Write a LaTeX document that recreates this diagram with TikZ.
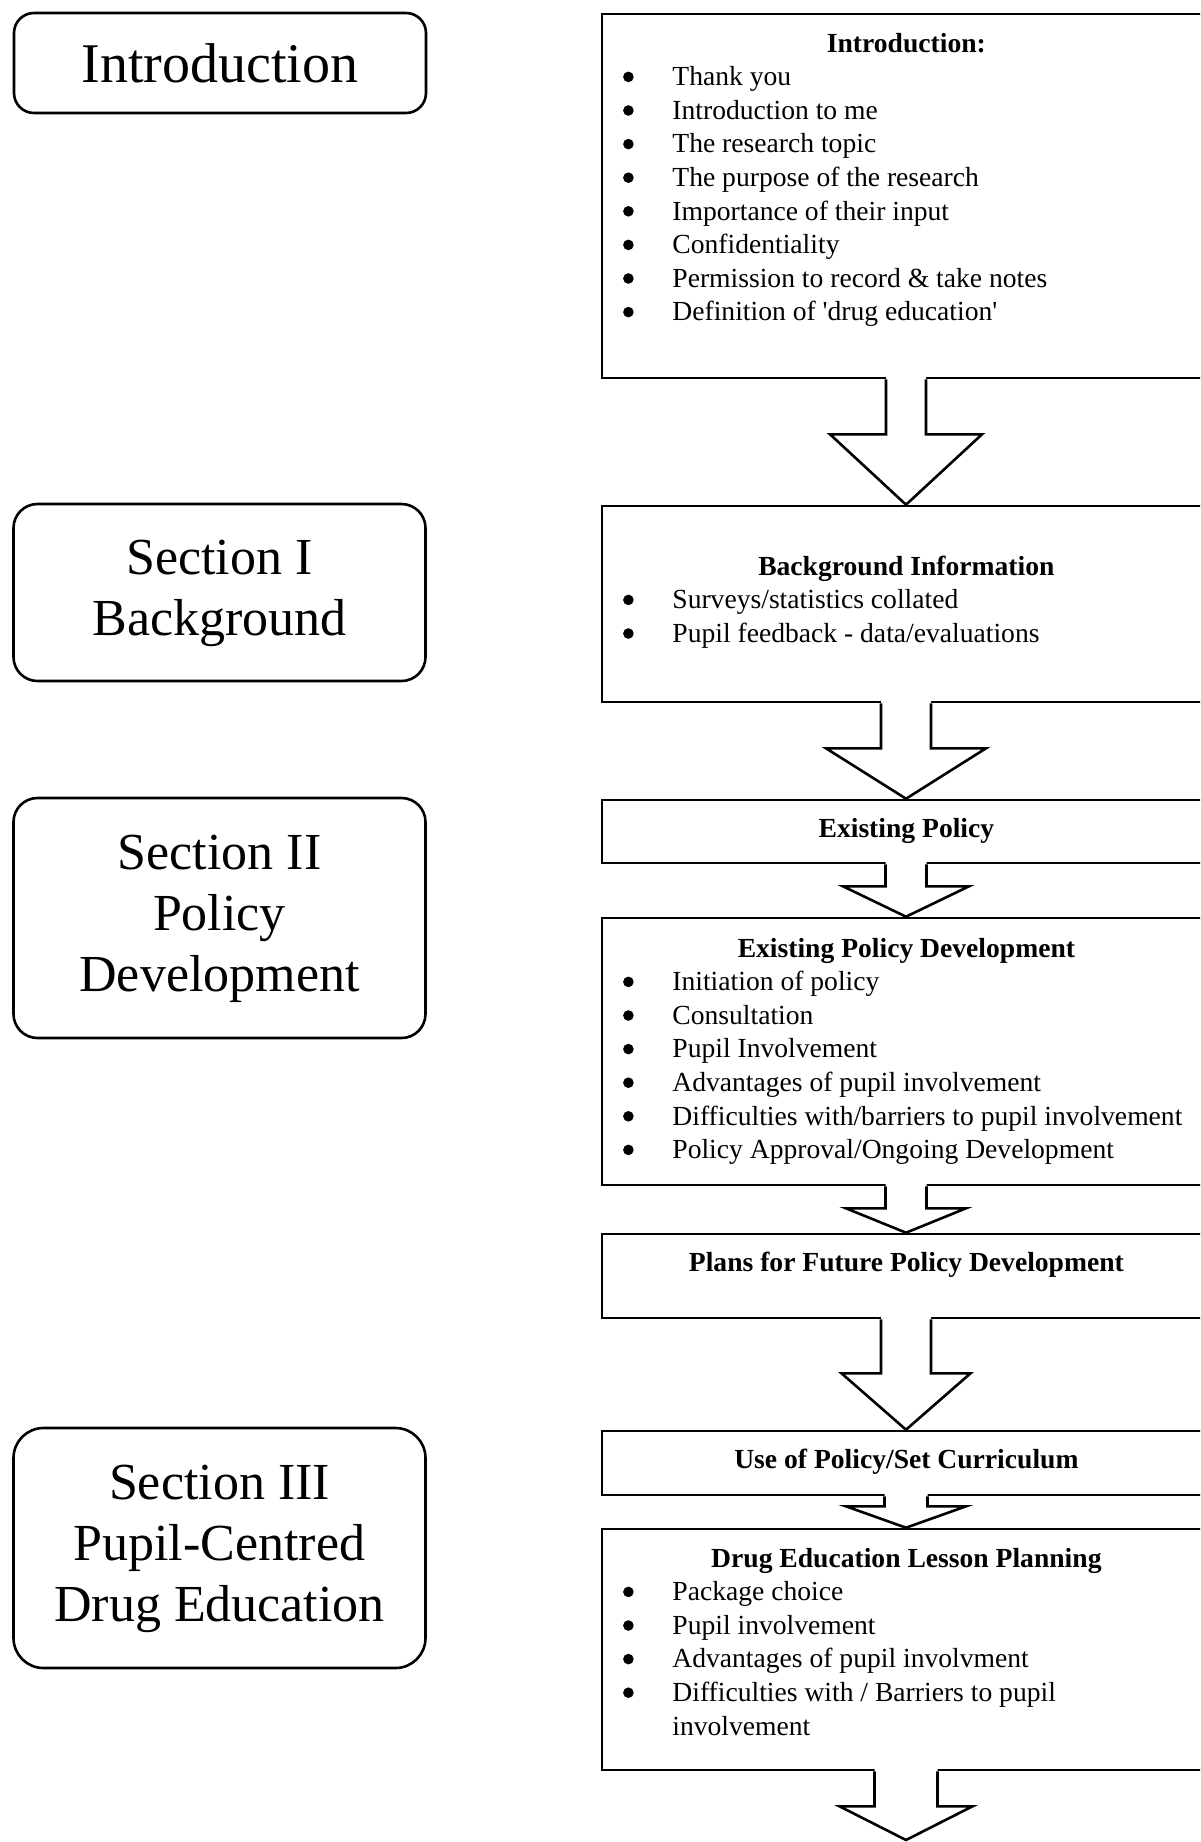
\documentclass[tikz,border=0pt]{standalone}
\usepackage{fontspec}
\setmainfont{Liberation Serif}
\usetikzlibrary{calc}
\newcommand{\bdot}{\tikz[baseline=0pt]\fill[black] (2.65pt,4.35pt) circle[radius=2.65pt];}
\newcommand{\blt}[1]{\par\noindent\hangindent=35pt\hangafter=1\makebox[35pt][l]{\hspace*{10.35pt}\bdot}#1\par}
% block arrow: from node, tip point, shaft half width, head offset, head half width
\newcommand{\barrow}[5]{%
  \fill[white] ($(#1.south)+(-#3,-3)$) -- ($(#1.south)+(-#3,#4)$) -- ($(#1.south)+(-#5,#4)$) -- (#2)
     -- ($(#1.south)+(#5,#4)$) -- ($(#1.south)+(#3,#4)$) -- ($(#1.south)+(#3,-3)$) -- cycle;
  \draw[arr] ($(#1.south)+(-#3,0)$) -- ($(#1.south)+(-#3,#4)$) -- ($(#1.south)+(-#5,#4)$) -- (#2)
     -- ($(#1.south)+(#5,#4)$) -- ($(#1.south)+(#3,#4)$) -- ($(#1.south)+(#3,0)$);
}
\begin{document}
\begin{tikzpicture}[x=0.5pt,y=-0.5pt,
  lbox/.style={draw, line width=1.3pt, rounded corners=12pt, minimum width=206pt,
     inner sep=0pt, font=\fontsize{26pt}{30.5pt}\selectfont},
  rbox/.style={draw, line width=1.3pt, minimum width=304pt, inner sep=0pt},
  rtext/.style={anchor=base west, inner sep=0pt, font=\fontsize{13.8pt}{16.8pt}\selectfont},
  arr/.style={line width=1.3pt, line cap=square, line join=miter}]
\useasboundingbox (0,0) rectangle (1200,1842);
\clip (0,0) rectangle (1200,1842);

% left section boxes
\node[lbox, rounded corners=10pt, minimum height=50pt, font=\fontsize{28pt}{32pt}\selectfont] (l1) at (220,63) {Introduction};
\node[lbox, minimum height=88.5pt] (l2) at (219.5,592.5) {\begin{tabular}{@{}c@{}}Section I\\Background\end{tabular}};
\node[lbox, minimum height=120pt] (l3) at (219.5,918) {\begin{tabular}{@{}c@{}}Section II\\Policy\\Development\end{tabular}};
\node[lbox, rounded corners=15pt, minimum height=120pt] (l4) at (219.5,1548) {\begin{tabular}{@{}c@{}}Section III\\Pupil-Centred\\Drug Education\end{tabular}};

% right boxes
\node[rbox, minimum height=182pt] (r1) at (906,196) {};
\node[rbox, minimum height=98pt] (r2) at (906,604) {};
\node[rbox, minimum height=31.5pt] (r3) at (906,831.5) {};
\node[rbox, minimum height=133.5pt] (r4) at (906,1051.5) {};
\node[rbox, minimum height=42pt] (r5) at (906,1276) {};
\node[rbox, minimum height=32pt] (r6) at (906,1463) {};
\node[rbox, minimum height=120.5pt] (r7) at (906,1649.5) {};
\coordinate (end) at (906,1840);

% texts of right boxes
\node[rtext] (t1) at (602,52) {\begin{minipage}[t]{304pt}{\centering\bfseries Introduction:\par}
\blt{Thank you}
\blt{Introduction to me}
\blt{The research topic}
\blt{The purpose of the research}
\blt{Importance of their input}
\blt{Confidentiality}
\blt{Permission to record \& take notes}
\blt{Definition of \textquotesingle drug education\textquotesingle}
\end{minipage}};
\node[rtext] (t2) at (602,575) {\begin{minipage}[t]{304pt}{\centering\bfseries Background Information\par}
\blt{Surveys/statistics collated}
\blt{Pupil feedback - data/evaluations}
\end{minipage}};
\node[rtext] (t3) at (602,837) {\begin{minipage}[t]{304pt}{\centering\bfseries Existing Policy\par}\end{minipage}};
\node[rtext] (t4) at (602,957) {\begin{minipage}[t]{304pt}{\centering\bfseries Existing Policy Development\par}
\blt{Initiation of policy}
\blt{Consultation}
\blt{Pupil Involvement}
\blt{Advantages of pupil involvement}
\blt{Difficulties with/barriers to pupil involvement}
\blt{Policy Approval/Ongoing Development}
\end{minipage}};
\node[rtext] (t5) at (602,1271) {\begin{minipage}[t]{304pt}{\centering\bfseries Plans for Future Policy Development\par}\end{minipage}};
\node[rtext] (t6) at (602,1468) {\begin{minipage}[t]{304pt}{\centering\bfseries Use of Policy/Set Curriculum\par}\end{minipage}};
\node[rtext] (t7) at (602,1567) {\begin{minipage}[t]{304pt}{\centering\bfseries Drug Education Lesson Planning\par}
\blt{Package choice}
\blt{Pupil involvement}
\blt{Advantages of pupil involvment}
\blt{Difficulties with / Barriers to pupil\\involvement}
\end{minipage}};

% block arrows
\barrow{r1}{r2.north}{20}{55}{76}
\barrow{r2}{r3.north}{25}{45}{80}
\barrow{r3}{r4.north}{20.5}{22}{63}
\barrow{r4}{r5.north}{20.5}{22}{60}
\barrow{r5}{r6.north}{25}{54}{64.5}
\barrow{r6}{r7.north}{21.5}{10}{60}
\barrow{r7}{end}{31.5}{35}{66.5}
\end{tikzpicture}
\end{document}
